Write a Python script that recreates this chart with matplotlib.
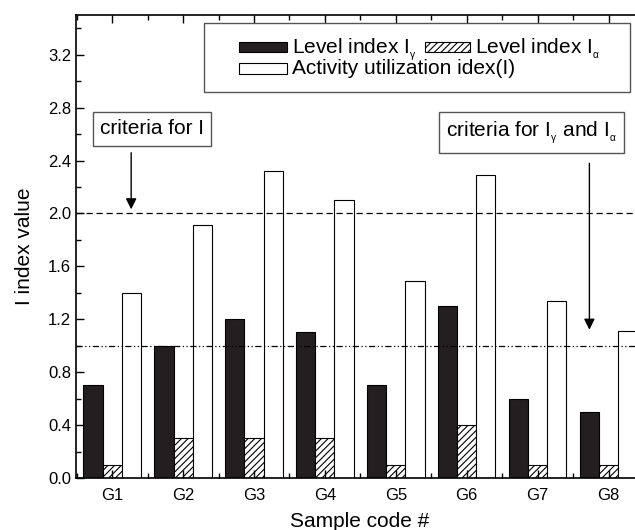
import numpy as np
import matplotlib
matplotlib.use('Agg')
import matplotlib.pyplot as plt
from matplotlib.patches import Rectangle
from matplotlib.ticker import MultipleLocator

plt.rcParams['font.family'] = ['Liberation Sans', 'DejaVu Sans']
plt.rcParams['mathtext.fontset'] = 'custom'
plt.rcParams['mathtext.rm'] = 'Liberation Sans'
plt.rcParams['mathtext.it'] = 'Liberation Sans'
plt.rcParams['hatch.linewidth'] = 0.8

samples = ['G1', 'G2', 'G3', 'G4', 'G5', 'G6', 'G7', 'G8']
level_gamma = [0.7, 1.0, 1.2, 1.1, 0.7, 1.3, 0.6, 0.5]
level_alpha = [0.1, 0.3, 0.3, 0.3, 0.1, 0.4, 0.1, 0.1]
activity_I = [1.40, 1.91, 2.32, 2.10, 1.49, 2.29, 1.34, 1.11]
criteria_I = 2.0
criteria_ga = 1.0

# small, low subscripts
SUB_G = r'$_{_{\gamma}}$'
SUB_A = r'$_{_{\alpha}}$'

W, H = 635, 530
fig = plt.figure(figsize=(W / 100, H / 100), dpi=100)
# axes runs a bit past the right edge of the figure
ax = fig.add_axes([76 / W, 52 / H, (644 - 76) / W, (478 - 15) / H])

x = np.arange(1, len(samples) + 1)
w = 0.27
ax.bar(x - w, level_gamma, w, color='#231f20', edgecolor='black', lw=0.8)
ax.bar(x, level_alpha, w, color='white', edgecolor='black', lw=0.8, hatch='/////')
ax.bar(x + w, activity_I, w, color='white', edgecolor='black', lw=0.8)

ax.axhline(criteria_I, color='black', lw=0.9, ls=(0, (5, 3)), zorder=5)
ax.axhline(criteria_ga, color='black', lw=0.9, ls=(0, (5, 2, 1, 2, 1, 2)), zorder=5)

ax.set_xlim(0.49, 8.5)
ax.set_ylim(0, 3.5)
ax.set_xticks(x)
ax.set_xticklabels(samples)
ax.xaxis.set_minor_locator(MultipleLocator(0.5))
ax.yaxis.set_major_locator(MultipleLocator(0.4))
ax.yaxis.set_minor_locator(MultipleLocator(0.2))
ax.yaxis.set_major_formatter('{x:.1f}')
ax.tick_params(which='both', direction='in', top=True, right=True, labelsize=12, width=1)
ax.tick_params(which='major', length=6)
ax.tick_params(axis='x', pad=7)
ax.tick_params(which='minor', length=3.5)
for s in ax.spines.values():
    s.set_linewidth(1.2)

ax.set_xlabel('Sample code #', fontsize=15, labelpad=7)
ax.set_ylabel('I index value', fontsize=15, labelpad=10)

# criteria annotations
box = dict(boxstyle='square,pad=0.35', fc='white', ec='#555555', lw=1)
ax.text(1.564, 2.64, 'criteria for I', fontsize=15, ha='center', va='center', bbox=box, zorder=6)
ax.annotate('', xy=(1.268, criteria_I + 0.01), xytext=(1.268, 2.48),
            arrowprops=dict(arrowstyle='-|>', color='black', lw=1, mutation_scale=16), zorder=6)
ax.text(6.91, 2.61, 'criteria for I' + SUB_G + ' and I' + SUB_A, fontsize=15,
        ha='center', va='center', bbox=box, zorder=6)
ax.annotate('', xy=(7.73, 1.10), xytext=(7.73, 2.40),
            arrowprops=dict(arrowstyle='-|>', color='black', lw=1, mutation_scale=16), zorder=6)


def fx(px):
    return px / W


def fy(py):
    return 1 - py / H


# legend drawn by hand so the first row can hold two entries
fig.patches.append(Rectangle((fx(204), fy(92)), fx(630) - fx(204), fy(23) - fy(92),
                             transform=fig.transFigure, fc='white', ec='#555555', lw=1, zorder=10))
fig.patches.append(Rectangle((fx(239), fy(52)), fx(48), fy(0) - fy(10),
                             transform=fig.transFigure, fc='#231f20', ec='black', lw=0.8, zorder=11))
fig.patches.append(Rectangle((fx(425), fy(52)), fx(45), fy(0) - fy(10),
                             transform=fig.transFigure, fc='white', ec='black', lw=0.8,
                             hatch='/////', zorder=11))
fig.patches.append(Rectangle((fx(239), fy(74)), fx(48), fy(0) - fy(11),
                             transform=fig.transFigure, fc='white', ec='black', lw=0.8, zorder=11))
fig.text(fx(292), fy(53), 'Level index I' + SUB_G, fontsize=15, va='baseline', zorder=12)
fig.text(fx(475), fy(53), 'Level index I' + SUB_A, fontsize=15, va='baseline', zorder=12)
fig.text(fx(292), fy(68), 'Activity utilization idex(I)', fontsize=15, va='center', zorder=12)

fig.savefig('out.png', dpi=100)
